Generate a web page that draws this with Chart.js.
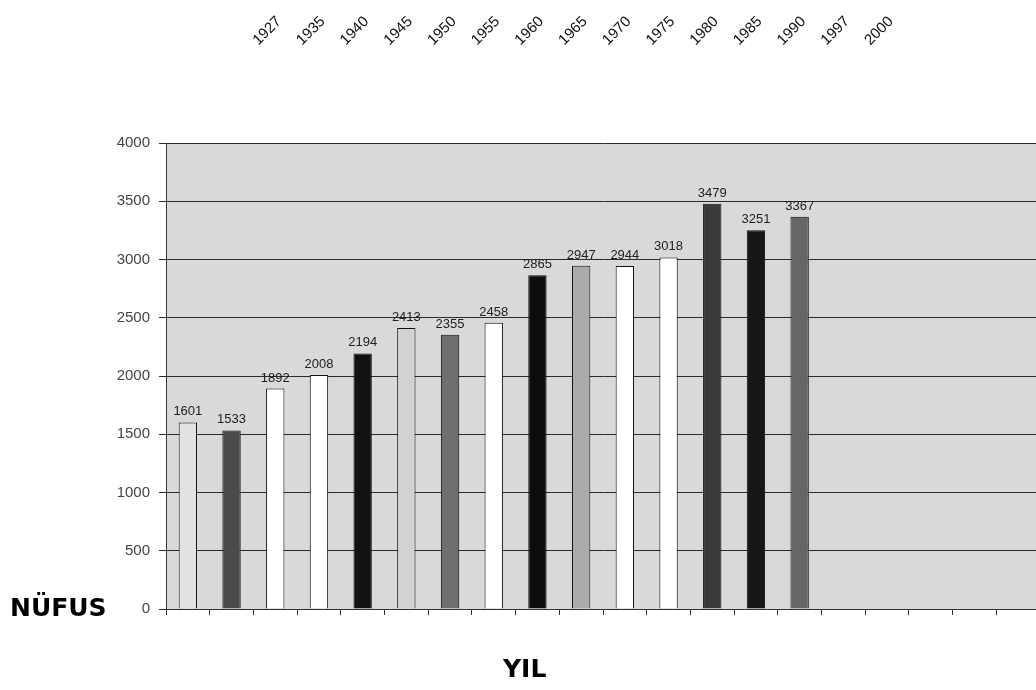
<!DOCTYPE html>
<html>
<head>
<meta charset="utf-8">
<script src="https://cdn.jsdelivr.net/npm/chart.js@4.4.1/dist/chart.umd.min.js"></script>
<style>
    html, body { margin: 0; padding: 0; background: #fff; overflow: hidden; }
    #wrap { position: relative; width: 1036px; height: 690px; overflow: hidden; }
    canvas { position: absolute; left: 0; top: 0; }
    .eksen { position: absolute; font-family: "DejaVu Sans", Verdana, sans-serif; font-weight: bold; font-size: 25px; color: #000; line-height: 1; }
</style>
</head>
<body>
<div id="wrap">
    <canvas id="nufusGrafico" width="1040" height="690"></canvas>
    <div class="eksen" style="left:10px; top:595px;">NÜFUS</div>
    <div class="eksen" style="left:503px; top:656px;">YIL</div>
</div>
<script>
// Veriler
const yillar = ['1927', '1935', '1940', '1945', '1950', '1955', '1960', '1965', '1970', '1975', '1980', '1985', '1990', '1997', '2000'];
const nufus = [1601, 1533, 1892, 2008, 2194, 2413, 2355, 2458, 2865, 2947, 2944, 3018, 3479, 3251, 3367];
const bosKategoriler = ['', '', '', '', ''];
const renkler = ['#e2e2e2', '#4a4a4a', '#ffffff', '#ffffff', '#111111', '#d2d2d2', '#6e6e6e', '#ffffff',
                 '#0d0d0d', '#ababab', '#ffffff', '#ffffff', '#3a3a3a', '#161616', '#666666'];
const yEksenMax = 4000;
const yEksenAdim = 500;

// Arka plan (gri alan)
const arkaPlan = {
    id: 'arkaPlan',
    beforeDraw(chart) {
        const a = chart.chartArea;
        const ctx = chart.ctx;
        ctx.save();
        ctx.fillStyle = '#d9d9d9';
        ctx.fillRect(a.left, a.top, a.right - a.left, a.bottom - a.top);
        ctx.restore();
    }
};

// Çubukların üstündeki değerler
const degerEtiketleri = {
    id: 'degerEtiketleri',
    afterDatasetsDraw(chart) {
        const ctx = chart.ctx;
        const meta = chart.getDatasetMeta(0);
        ctx.save();
        ctx.font = '13px "Liberation Sans", Arial, sans-serif';
        ctx.fillStyle = '#222';
        ctx.textAlign = 'center';
        ctx.textBaseline = 'alphabetic';
        meta.data.forEach((bar, i) => {
            ctx.fillText(String(nufus[i]), bar.x, bar.y - 7);
        });
        ctx.restore();
    }
};

// Üstteki eğik yıl listesi
const ustYillar = {
    id: 'ustYillar',
    afterDraw(chart) {
        const ctx = chart.ctx;
        const x = chart.scales.x;
        ctx.save();
        ctx.font = '15px "Liberation Sans", Arial, sans-serif';
        ctx.fillStyle = '#111';
        ctx.textAlign = 'center';
        ctx.textBaseline = 'middle';
        yillar.forEach((yil, i) => {
            const cx = x.getPixelForValue(i + 2) - 8;
            ctx.save();
            ctx.translate(cx, 31);
            ctx.rotate(-Math.PI / 4);
            ctx.fillText(yil, 0, 0);
            ctx.restore();
        });
        ctx.restore();
    }
};

const ctx = document.getElementById('nufusGrafico').getContext('2d');
new Chart(ctx, {
    type: 'bar',
    data: {
        labels: yillar.concat(bosKategoriler),
        datasets: [{
            data: nufus,
            backgroundColor: renkler,
            borderColor: '#111',
            borderWidth: 1,
            barPercentage: 0.42,
            categoryPercentage: 1
        }]
    },
    options: {
        responsive: false,
        animation: false,
        layout: { padding: { left: 0, right: 0, top: 143, bottom: 71 } },
        plugins: {
            legend: { display: false },
            tooltip: { enabled: false }
        },
        scales: {
            x: {
                grid: { drawOnChartArea: false, drawTicks: true, tickLength: 6, color: '#333', offset: true },
                border: { color: '#333', width: 1 },
                ticks: { display: false },
                afterFit(scale) { scale.height = 10; }
            },
            y: {
                min: 0,
                max: yEksenMax,
                ticks: {
                    stepSize: yEksenAdim,
                    color: '#444',
                    padding: 9,
                    font: { family: '"Liberation Sans", Arial, sans-serif', size: 15 },
                    callback: v => String(v)
                },
                grid: { color: '#2a2a2a', lineWidth: 1, tickLength: 7 },
                border: { color: '#333', width: 1 },
                afterFit(scale) { scale.width = 166; }
            }
        }
    },
    plugins: [arkaPlan, degerEtiketleri, ustYillar]
});
</script>
</body>
</html>
